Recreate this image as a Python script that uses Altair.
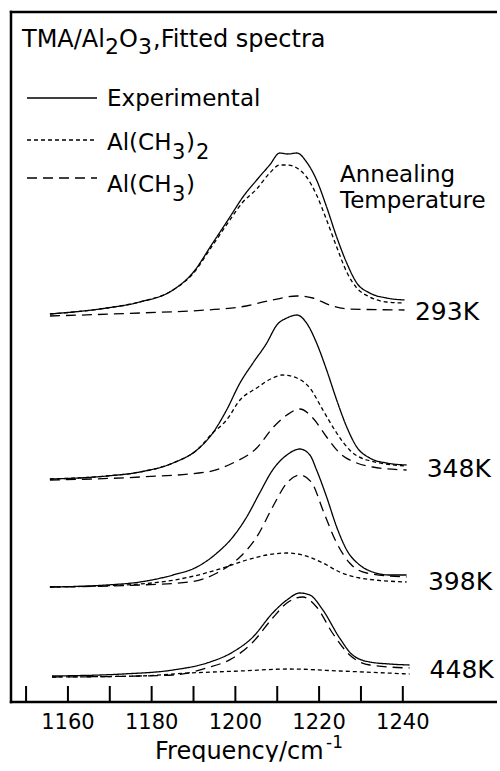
import altair as alt
import pandas as pd

# ---------------- data ----------------
# frequency / cm-1 and intensity (arbitrary units, stacked offsets)
f_293_exp = [1155.7, 1169.3, 1177.2, 1185.1, 1189.8, 1194.6, 1198.7, 1201.8, 1205.1, 1208.2, 1210.6,
             1212.5, 1214.7, 1217.0, 1219.4, 1221.8, 1224.2, 1226.6, 1229.0, 1232.1, 1236.1, 1240.4]
a_293_exp = [3.88, 3.94, 4.00, 4.12, 4.29, 4.59, 4.85, 5.05, 5.22, 5.37, 5.49,
             5.48, 5.49, 5.40, 5.22, 4.95, 4.65, 4.39, 4.19, 4.09, 4.04, 4.02]
f_293_d2 = [1155.7, 1169.3, 1177.2, 1185.1, 1189.8, 1194.6, 1198.7, 1201.8, 1205.1, 1208.2, 1210.6,
            1212.5, 1214.7, 1217.0, 1219.4, 1221.8, 1224.2, 1226.6, 1229.0, 1232.1, 1236.1, 1240.4]
a_293_d2 = [3.88, 3.94, 4.00, 4.12, 4.28, 4.57, 4.82, 5.00, 5.13, 5.29, 5.37,
            5.37, 5.34, 5.25, 5.07, 4.82, 4.55, 4.30, 4.14, 4.05, 4.00, 3.99]
f_293_d1 = [1155.7, 1177.2, 1193.2, 1201.1, 1208.9, 1214.7, 1218.5, 1222.5, 1227.3, 1240.4]
a_293_d1 = [3.86, 3.89, 3.92, 3.95, 4.02, 4.06, 4.04, 3.97, 3.93, 3.92]

f_348_exp = [1155.7, 1169.3, 1177.2, 1185.1, 1190.8, 1194.6, 1197.9, 1201.1, 1204.2, 1207.5, 1209.9,
             1212.3, 1214.7, 1217.0, 1219.4, 1221.8, 1224.2, 1226.6, 1229.0, 1232.1, 1236.1, 1240.9]
a_348_exp = [2.23, 2.26, 2.30, 2.39, 2.52, 2.69, 2.92, 3.19, 3.39, 3.59, 3.77,
             3.84, 3.87, 3.79, 3.59, 3.32, 3.02, 2.75, 2.55, 2.44, 2.39, 2.37]
f_348_d2 = [1155.7, 1169.3, 1177.2, 1185.1, 1190.8, 1194.6, 1197.9, 1201.1, 1205.1, 1208.9, 1211.3,
            1214.7, 1217.8, 1220.9, 1224.2, 1227.3, 1231.4, 1240.9]
a_348_d2 = [2.23, 2.26, 2.30, 2.39, 2.52, 2.69, 2.82, 3.02, 3.14, 3.24, 3.27,
            3.24, 3.14, 2.92, 2.69, 2.52, 2.42, 2.36]
f_348_d1 = [1155.7, 1177.2, 1193.2, 1199.4, 1205.1, 1208.9, 1212.3, 1215.4, 1218.5, 1221.8, 1224.9,
            1229.0, 1232.8, 1240.9]
a_348_d1 = [2.22, 2.25, 2.30, 2.39, 2.54, 2.74, 2.87, 2.93, 2.84, 2.65, 2.49,
            2.39, 2.35, 2.32]

f_398_exp = [1155.7, 1169.3, 1177.2, 1185.1, 1190.8, 1195.6, 1199.4, 1202.7, 1205.8, 1208.9, 1212.3,
             1215.4, 1217.8, 1219.4, 1221.8, 1224.2, 1226.6, 1229.7, 1232.8, 1236.8, 1240.9]
a_398_exp = [1.15, 1.17, 1.20, 1.27, 1.35, 1.49, 1.65, 1.85, 2.09, 2.32, 2.47,
             2.53, 2.47, 2.32, 2.05, 1.75, 1.52, 1.37, 1.30, 1.27, 1.27]
f_398_d2 = [1155.7, 1177.2, 1189.1, 1197.0, 1202.7, 1207.5, 1212.3, 1216.1, 1220.9, 1224.9, 1229.7, 1240.9]
a_398_d2 = [1.15, 1.18, 1.25, 1.34, 1.42, 1.47, 1.49, 1.47, 1.39, 1.30, 1.24, 1.20]
f_398_d1 = [1155.7, 1177.2, 1189.1, 1195.6, 1201.1, 1205.1, 1208.9, 1212.3, 1215.4, 1218.3, 1220.9,
            1224.2, 1227.3, 1231.4, 1240.9]
a_398_d1 = [1.15, 1.17, 1.20, 1.29, 1.45, 1.65, 1.95, 2.19, 2.27, 2.19, 1.92,
            1.59, 1.39, 1.29, 1.25]

f_448_exp = [1156.2, 1173.1, 1185.1, 1193.2, 1199.4, 1204.2, 1208.9, 1212.3, 1215.4, 1217.8, 1220.9,
             1224.9, 1228.0, 1232.1, 1236.8, 1241.6]
a_448_exp = [0.26, 0.28, 0.32, 0.39, 0.50, 0.65, 0.89, 1.02, 1.09, 1.07, 0.92,
             0.64, 0.47, 0.40, 0.38, 0.37]
f_448_d2 = [1156.2, 1177.2, 1189.1, 1201.1, 1213.0, 1224.9, 1241.6]
a_448_d2 = [0.25, 0.26, 0.29, 0.31, 0.33, 0.31, 0.28]
f_448_d1 = [1156.2, 1177.2, 1185.1, 1193.2, 1199.4, 1204.2, 1208.9, 1212.3, 1216.1, 1219.4, 1223.2,
            1227.3, 1232.1, 1241.6]
a_448_d1 = [0.25, 0.26, 0.27, 0.34, 0.44, 0.60, 0.84, 0.99, 1.05, 0.95, 0.69,
            0.47, 0.37, 0.34]

temps = ["293K", "348K", "398K", "448K"]
temp_label_freq = [1242.9, 1245.7, 1246.0, 1246.4]
temp_label_level = [3.90, 2.33, 1.20, 0.32]

tick_values = [1150, 1160, 1170, 1180, 1190, 1200, 1210, 1220, 1230, 1240]
tick_labels = [1160, 1180, 1200, 1220, 1240]

# ---------------- tables ----------------
curves = [
    ("293K", "Experimental", f_293_exp, a_293_exp),
    ("293K", "Al(CH3)2", f_293_d2, a_293_d2),
    ("293K", "Al(CH3)", f_293_d1, a_293_d1),
    ("348K", "Experimental", f_348_exp, a_348_exp),
    ("348K", "Al(CH3)2", f_348_d2, a_348_d2),
    ("348K", "Al(CH3)", f_348_d1, a_348_d1),
    ("398K", "Experimental", f_398_exp, a_398_exp),
    ("398K", "Al(CH3)2", f_398_d2, a_398_d2),
    ("398K", "Al(CH3)", f_398_d1, a_398_d1),
    ("448K", "Experimental", f_448_exp, a_448_exp),
    ("448K", "Al(CH3)2", f_448_d2, a_448_d2),
    ("448K", "Al(CH3)", f_448_d1, a_448_d1),
]
rows = []
for spec, comp, fs, vs in curves:
    for f, v in zip(fs, vs):
        rows.append({"spectrum": spec, "component": comp, "freq": f, "absorb": v})
df = pd.DataFrame(rows)
df_ticks = pd.DataFrame({"freq": tick_values})
df_ticklabels = pd.DataFrame({"freq": tick_labels, "text": [str(v) for v in tick_labels]})
df_temps = pd.DataFrame({"label": temps, "freq": temp_label_freq, "absorb": temp_label_level})
one = pd.DataFrame({"k": [0]})

FONT = "DejaVu Sans"
W, H = 486, 690
x_scale = alt.Scale(domain=[1146.4, 1262.5], nice=False, zero=False)
y_scale = alt.Scale(domain=[0, 6.9], nice=False, zero=False)

X = alt.X("freq:Q", scale=x_scale, axis=None)
Y = alt.Y("absorb:Q", scale=y_scale, axis=None)


def curve_layer(comp, dash):
    return alt.Chart(df).transform_filter(alt.datum.component == comp).mark_line(
        color="black", strokeWidth=1.3, strokeDash=dash, interpolate="monotone"
    ).encode(x=X, y=Y, detail="spectrum:N")


def txt(s, x, y, size, align="left", baseline="alphabetic"):
    return alt.Chart(one).mark_text(
        text=s, font=FONT, fontSize=size, color="black", align=align, baseline=baseline
    ).encode(x=alt.value(x), y=alt.value(y))


def legend_line(y, dash):
    return alt.Chart(one).mark_rule(color="black", strokeWidth=1.3, strokeDash=dash).encode(
        x=alt.value(16), x2=alt.value(86), y=alt.value(y))


exp_layer = curve_layer("Experimental", [1, 0])
d2_layer = curve_layer("Al(CH3)2", [4, 3])
d1_layer = curve_layer("Al(CH3)", [10, 6])

ticks = alt.Chart(df_ticks).mark_rule(color="black", strokeWidth=2).encode(
    x=X, y=alt.value(H - 16), y2=alt.value(H))
tick_text = alt.Chart(df_ticklabels).mark_text(
    font=FONT, fontSize=21, color="black", align="center", baseline="top"
).encode(x=X, y=alt.value(H + 10), text="text:N")

top_border = alt.Chart(one).mark_rule(color="black", strokeWidth=2.5).encode(
    x=alt.value(-1.2), x2=alt.value(W + 2), y=alt.value(0))
left_border = alt.Chart(one).mark_rule(color="black", strokeWidth=2.5).encode(
    x=alt.value(0), y=alt.value(-1.2), y2=alt.value(H + 1.2))
bottom_border = alt.Chart(one).mark_rule(color="black", strokeWidth=2.5).encode(
    x=alt.value(-1.2), x2=alt.value(W + 2), y=alt.value(H))

temp_text = alt.Chart(df_temps).mark_text(
    font=FONT, fontSize=25, color="black", align="left", baseline="middle"
).encode(x=X, y=Y, text="label:N")

# title "TMA/Al2O3,Fitted spectra" with lowered subscripts
title_parts = [
    txt("TMA/Al", 11, 35, 24),
    txt("2", 94, 42, 22),
    txt("O", 108, 35, 24),
    txt("3", 127, 42, 22),
    txt(",Fitted spectra", 142, 35, 24),
]
legend_parts = [
    legend_line(86, [1, 0]),
    legend_line(128, [4, 3]),
    legend_line(166, [10, 6]),
    txt("Experimental", 96, 94, 23),
    txt("Al(CH", 96, 138, 23),
    txt("3", 161, 147, 21),
    txt(")", 175, 138, 23),
    txt("2", 185, 147, 21),
    txt("Al(CH", 96, 180, 23),
    txt("3", 161, 189, 21),
    txt(")", 175, 180, 23),
]
annot = [
    txt("Annealing", 329, 170, 23),
    txt("Temperature", 329, 196, 23),
    txt("Frequency/cm", 144, 747, 24),
    txt("-1", 315, 736, 17),
]

chart = alt.layer(
    exp_layer, d2_layer, d1_layer, ticks, tick_text, top_border, left_border, bottom_border,
    temp_text, *title_parts, *legend_parts, *annot
).properties(
    width=W, height=H,
    autosize=alt.AutoSizeParams(type="none"),
    padding={"left": 11, "top": 12, "right": 0, "bottom": 60},
    background="white",
).configure_view(stroke="transparent", strokeWidth=0, strokeOpacity=0)

chart.save("out.html", embed_options={"renderer": "svg", "actions": False})
